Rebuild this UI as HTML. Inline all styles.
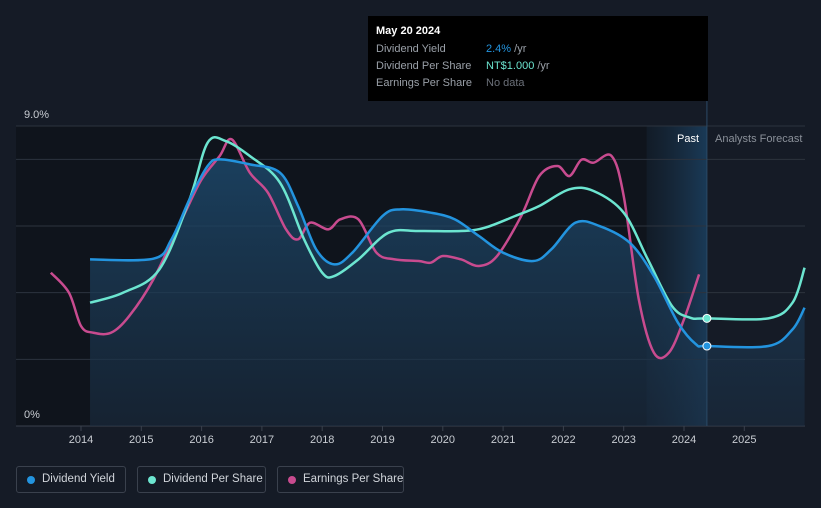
<!DOCTYPE html>
<html><head><meta charset="utf-8"><style>
html,body{margin:0;background:#151b26;font-family:"Liberation Sans",sans-serif;width:821px;height:508px;overflow:hidden;position:relative}
svg{position:absolute;left:0;top:0}
.tip{position:absolute;left:368px;top:16px;width:340px;height:85px;background:#000;color:#fff;font-size:11px}
.tip div{position:absolute;left:8px;white-space:nowrap}
.leg{position:absolute;top:466px;height:27px;border:1px solid #3a414d;border-radius:3px;color:#d0d4da;font-size:11.5px;line-height:25px;box-sizing:border-box;padding-left:25px;white-space:nowrap;overflow:hidden}
.leg i{position:absolute;left:10px;top:9px;width:8px;height:8px;border-radius:50%}
</style></head><body>
<svg id="chart" width="821" height="508"></svg>
<div class="tip">
<div style="top:9px;font-weight:bold">May 20 2024</div>
<div style="top:27px;color:#9aa0a8">Dividend Yield</div>
<div style="top:27px;left:118px;color:#2394df">2.4%<span style="color:#9aa0a8"> /yr</span></div>
<div style="top:44px;color:#9aa0a8">Dividend Per Share</div>
<div style="top:44px;left:118px;color:#6ce5d0">NT$1.000<span style="color:#9aa0a8"> /yr</span></div>
<div style="top:61px;color:#9aa0a8">Earnings Per Share</div>
<div style="top:61px;left:118px;color:#6b7079">No data</div>
</div>
<div class="leg" style="left:16px;width:110px"><i style="background:#2394df"></i>Dividend Yield</div>
<div class="leg" style="left:137px;width:129px"><i style="background:#6ce5d0"></i>Dividend Per Share</div>
<div class="leg" style="left:277px;width:127px"><i style="background:#c84b8f"></i>Earnings Per Share</div>
<script>
const yieldX=[2014.15,2015.2,2015.5,2015.8,2016.1,2016.3,2016.8,2017.3,2017.6,2017.9,2018.2,2018.5,2019.0,2019.3,2019.8,2020.2,2020.6,2021.0,2021.5,2021.8,2022.2,2022.6,2023.1,2023.5,2023.9,2024.2,2024.38,2025.4,2025.8,2026];
const yieldY=[5.0,5.02,5.6,6.8,7.8,8.0,7.85,7.6,6.6,5.3,4.85,5.2,6.3,6.5,6.4,6.2,5.7,5.2,4.95,5.3,6.1,6.0,5.5,4.5,3.1,2.45,2.4,2.4,2.9,3.55];
const dpsX=[2014.15,2014.7,2015.3,2015.8,2016.1,2016.4,2016.8,2017.3,2017.7,2018.0,2018.2,2018.6,2019.1,2019.6,2020.3,2020.7,2021.2,2021.6,2022.1,2022.5,2023.0,2023.4,2023.8,2024.1,2024.38,2025.4,2025.8,2026];
const dpsY=[3.7,4.0,4.7,6.8,8.5,8.55,8.1,7.3,5.6,4.6,4.5,5.0,5.8,5.85,5.85,5.95,6.3,6.6,7.1,7.05,6.4,5.0,3.6,3.25,3.23,3.23,3.7,4.75];
const epsX=[2013.5,2013.8,2014.0,2014.2,2014.5,2014.8,2015.2,2015.7,2016.0,2016.3,2016.5,2016.8,2017.1,2017.4,2017.6,2017.8,2018.1,2018.3,2018.6,2018.9,2019.2,2019.6,2019.8,2020.0,2020.3,2020.6,2020.9,2021.3,2021.6,2021.9,2022.1,2022.3,2022.5,2022.8,2023.0,2023.25,2023.5,2023.75,2024.0,2024.25];
const epsY=[4.6,4.0,3.0,2.8,2.8,3.3,4.4,6.3,7.4,8.1,8.6,7.6,7.0,5.9,5.6,6.1,5.9,6.2,6.2,5.2,5.0,4.95,4.9,5.1,5.0,4.8,5.1,6.3,7.5,7.8,7.5,7.99,7.9,8.1,6.9,3.8,2.2,2.2,3.2,4.55];
const yearTicks=[2014,2015,2016,2017,2018,2019,2020,2021,2022,2023,2024,2025];
const gridVals=[2,4,6,8,9];
const X=y=>81+(y-2014)*60.3, Y=v=>426-v*33.33;
const NS="http://www.w3.org/2000/svg",svg=document.getElementById('chart');
function el(t,a,p){const e=document.createElementNS(NS,t);for(const k in a)e.setAttribute(k,a[k]);(p||svg).appendChild(e);return e;}
function path(xs,ys){const p=xs.map((x,i)=>[X(x),Y(ys[i])]);let d=`M${p[0][0]},${p[0][1]}`;
for(let i=0;i<p.length-1;i++){const p0=p[i-1]||p[i],p1=p[i],p2=p[i+1],p3=p[i+2]||p2;
d+=`C${p1[0]+(p2[0]-p0[0])/6},${p1[1]+(p2[1]-p0[1])/6} ${p2[0]-(p3[0]-p1[0])/6},${p2[1]-(p3[1]-p1[1])/6} ${p2[0]},${p2[1]}`;}return d;}
const defs=el('defs',{});
defs.innerHTML='<linearGradient id="fg" x1="0" y1="0" x2="0" y2="1"><stop offset="0" stop-color="#1d4a6e" stop-opacity="0.8"/><stop offset="1" stop-color="#1a2c40" stop-opacity="0.6"/></linearGradient><linearGradient id="bg" x1="0" x2="1"><stop offset="0" stop-color="#1e3a55" stop-opacity="0.2"/><stop offset="1" stop-color="#1e4a70" stop-opacity="0.7"/></linearGradient>';
const past=el('rect',{x:16,y:126,width:X(2024.38)-16,height:300,fill:'#0f141c'});

el('rect',{x:X(2023.38),y:126,width:X(2024.38)-X(2023.38),height:300,fill:'url(#bg)'});
gridVals.forEach(v=>{const l=el('line',{x1:16,x2:805,y1:Y(v),y2:Y(v),stroke:'#2c333e','stroke-width':1});
});
el('line',{x1:16,x2:805,y1:426,y2:426,stroke:'#3a414d'});
const t9=el('text',{x:24,y:118,fill:'#c8ccd2','font-size':11});t9.textContent='9.0%';

const t0=el('text',{x:24,y:418,fill:'#c8ccd2','font-size':11});t0.textContent='0%';

yearTicks.forEach(y=>{el('line',{x1:X(y),x2:X(y),y1:426,y2:431,stroke:'#3a414d'});
const t=el('text',{x:X(y),y:443,fill:'#c8ccd2','font-size':11,'text-anchor':'middle'});t.textContent=y;
});
const pt=el('text',{x:699,y:142,fill:'#fff','font-size':11,'text-anchor':'end'});pt.textContent='Past';

const ft=el('text',{x:715,y:142,fill:'#8a9099','font-size':11});ft.textContent='Analysts Forecast';

const yd=path(yieldX,yieldY);
const area=el('path',{d:yd+`L${X(yieldX[yieldX.length-1])},426L${X(yieldX[0])},426Z`,fill:'url(#fg)'});

el('line',{x1:X(2024.38),x2:X(2024.38),y1:101,y2:426,stroke:'#2b4a66'});
[[epsX,epsY,'#c84b8f','eps-line'],[dpsX,dpsY,'#6ce5d0','dps-line'],[yieldX,yieldY,'#2394df','yield-line']].forEach(s=>{
const p=el('path',{d:path(s[0],s[1]),fill:'none',stroke:s[2],'stroke-width':2.5});
});
const c1=el('circle',{cx:X(2024.38),cy:Y(3.23),r:4,fill:'#6ce5d0',stroke:'#fff','stroke-width':1});

const c2=el('circle',{cx:X(2024.38),cy:Y(2.4),r:4,fill:'#2394df',stroke:'#fff','stroke-width':1});

</script>
</body></html>
